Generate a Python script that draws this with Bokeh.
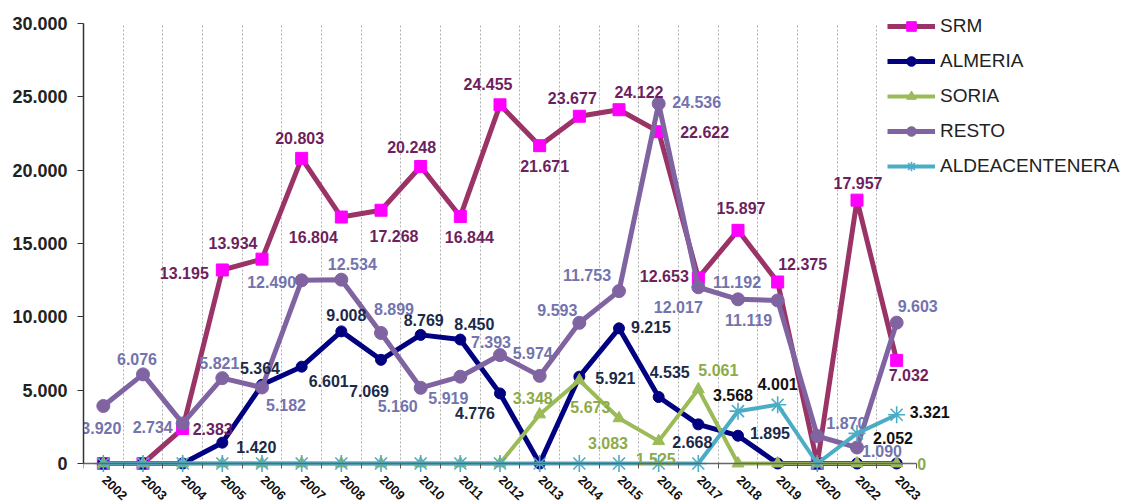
from bokeh.plotting import figure
from bokeh.models import FixedTicker, Legend, LegendItem, ColumnDataSource, Range1d, LabelSet
from bokeh.core.properties import value
from bokeh.embed import file_html
from bokeh.resources import INLINE

# ---------------- data ----------------
years = ["2002", "2003", "2004", "2005", "2006", "2007", "2008", "2009", "2010", "2011",
         "2012", "2013", "2014", "2015", "2016", "2017", "2018", "2019", "2020", "2022", "2023"]

srm = [0, 0, 2383, 13195, 13934, 20803, 16804, 17268, 20248, 16844,
       24455, 21671, 23677, 24122, 22622, 12653, 15897, 12375, 0, 17957, 7032]
almeria = [0, 0, 0, 1420, 5364, 6601, 9008, 7069, 8769, 8450,
           4776, 0, 5921, 9215, 4535, 2668, 1895, 0, 0, 0, 0]
soria = [0, 0, 0, 0, 0, 0, 0, 0, 0, 0,
         0, 3348, 5673, 3083, 1525, 5061, 0, 0, 0, 0, 0]
resto = [3920, 6076, 2734, 5821, 5182, 12490, 12534, 8899, 5160, 5919,
         7393, 5974, 9593, 11753, 24536, 12017, 11192, 11119, 1870, 1090, 9603]
aldea = [0, 0, 0, 0, 0, 0, 0, 0, 0, 0,
         0, 0, 0, 0, 0, 0, 3568, 4001, 0, 2052, 3321]

y_ticks = [0, 5000, 10000, 15000, 20000, 25000, 30000]
y_tick_labels = ["0", "5.000", "10.000", "15.000", "20.000", "25.000", "30.000"]

# ---------------- label placement (screen px offsets, +dy = down) ----------------
label_pos = {
    "SRM": {"2004": (30, 0), "2005": (-38, 3), "2006": (-29, -16), "2007": (-2, -20),
            "2008": (-28, 20), "2009": (13, 26), "2010": (-9, -20), "2011": (9, 21),
            "2012": (-12, -21), "2013": (5, 20), "2014": (-7, -18), "2015": (20, -18),
            "2016": (46, 0), "2017": (-34, -2), "2018": (3, -22), "2019": (25, -18),
            "2022": (1, -17), "2023": (12, 15)},
    "ALMERIA": {"2005": (34, 4), "2006": (-2, -17), "2007": (27, 14), "2008": (5, -16),
                "2009": (-12, 31), "2010": (3, -15), "2011": (14, -16), "2012": (-25, 20),
                "2014": (36, 1), "2015": (32, -1), "2016": (11, -25), "2017": (-6, 18),
                "2018": (32, -3)},
    "SORIA": {"2013": (-7, -16), "2014": (11, 27), "2015": (-11, 25), "2016": (-3, 18),
              "2017": (20, -19), "2023": (25, 0)},
    "RESTO": {"2002": (-2, 22), "2003": (-6, -15), "2004": (-30, 4), "2005": (-3, -15),
              "2006": (24, 18), "2007": (-30, 2), "2008": (11, -16), "2009": (13, -24),
              "2010": (-23, 18), "2011": (-12, 21), "2012": (-9, -13), "2013": (-7, -23),
              "2014": (-22, -13), "2015": (-32, -16), "2016": (38, -2), "2017": (-20, 20),
              "2018": (-1, -17), "2019": (-29, 20), "2020": (29, -13), "2022": (25, 3),
              "2023": (21, -17)},
    "ALDEACENTENERA": {"2018": (-5, -16), "2019": (0, -21), "2022": (36, 5), "2023": (33, -3)},
}

series = [
    # name, values, line color, marker, marker fill, marker size, line width, label color
    ("SRM", srm, "#9B3466", "square", "#FF00FF", 12, 5, "#6D1F5E"),
    ("ALMERIA", almeria, "#000080", "circle", "#000080", 11, 5, "#1B2A48"),
    ("SORIA", soria, "#9BBB59", "triangle", "#9BBB59", 12, 4, "#8CAB48"),
    ("RESTO", resto, "#8064A2", "circle", "#8064A2", 13, 5, "#7373AD"),
    ("ALDEACENTENERA", aldea, "#4BACC6", "asterisk", "#4BACC6", 17, 4, "#111111"),
]

FONT = "Liberation Sans"

# ---------------- layout (figure pixels) ----------------
W, H = 1123, 504
LEFT, BOTTOM = 83, 0
AX_LEFT, AX_RIGHT = 83, 916      # x of first / last category boundary
AX_TOP, AX_ZERO = 23, 463        # y of 30000 / 0
Y_MAX = 30000

frame_h = H - BOTTOM
y_per_px = Y_MAX / (AX_ZERO - AX_TOP)
y_start = -(frame_h - AX_ZERO) * y_per_px
y_end = Y_MAX + AX_TOP * y_per_px
n = len(years)
x_per_px = n / (AX_RIGHT - AX_LEFT)
x_start = -0.5
x_end = n - 0.5 + (W - AX_RIGHT) * x_per_px

x_idx = list(range(n))

p = figure(width=W, height=H, output_backend="svg", toolbar_location=None,
           x_range=Range1d(x_start, x_end), y_range=Range1d(y_start, y_end),
           min_border_left=LEFT, min_border_right=0, min_border_top=0,
           min_border_bottom=BOTTOM)
p.outline_line_color = None
p.background_fill_color = "white"

# x axis (line + boundary ticks at y=0; year labels drawn by a LabelSet below)
p.xaxis.fixed_location = 0
p.xaxis.bounds = (-0.5, n - 0.5)
p.xaxis.ticker = FixedTicker(ticks=x_idx, minor_ticks=[i - 0.5 for i in range(n + 1)])
p.xaxis.major_label_overrides = {i: "" for i in x_idx}
p.xaxis.major_label_text_font_size = "1px"
p.xaxis.major_label_standoff = 0
p.xaxis.major_tick_out = 0
p.xaxis.major_tick_in = 0
p.xaxis.minor_tick_out = 5
p.xaxis.minor_tick_in = 0
p.xaxis.minor_tick_line_color = "#555555"
p.xaxis.axis_line_color = "#666666"
p.xaxis.axis_line_width = 1.5

p.yaxis.bounds = (0, Y_MAX)
p.yaxis.ticker = FixedTicker(ticks=y_ticks)
p.yaxis.major_label_overrides = {t: l for t, l in zip(y_ticks, y_tick_labels)}
p.yaxis.major_tick_out = 6
p.yaxis.major_tick_in = 0
p.yaxis.minor_tick_out = 0
p.yaxis.minor_tick_in = 0
p.yaxis.axis_line_color = "#333333"
p.yaxis.axis_line_width = 1.5
p.yaxis.major_tick_line_color = "#333333"
p.yaxis.major_label_standoff = 10
p.yaxis.major_label_text_font = FONT
p.yaxis.major_label_text_font_style = "bold"
p.yaxis.major_label_text_font_size = "18px"
p.yaxis.major_label_text_color = "#222222"

# grid: vertical dotted lines at category boundaries
p.xgrid.ticker = FixedTicker(ticks=[i + 0.5 for i in range(n - 1)])
p.xgrid.grid_line_color = "#b0b0b0"
p.xgrid.grid_line_dash = "2 2"
p.xgrid.grid_line_width = 1
if "cross_bounds" in p.xgrid[0].properties():
    p.xgrid.cross_bounds = (0, Y_MAX)
p.ygrid.grid_line_color = None

legend_items = []
for name, vals, lc, mk, mf, ms, lw, tc in series:
    src = ColumnDataSource(dict(x=x_idx, y=vals))
    lr = p.line("x", "y", source=src, line_color=lc, line_width=lw)
    if mk == "asterisk":
        sr = p.scatter("x", "y", source=src, marker=mk, size=ms, line_color=mf, line_width=1.6)
    else:
        sr = p.scatter("x", "y", source=src, marker=mk, size=ms, fill_color=mf,
                       line_color=mf)
    legend_items.append(LegendItem(label=name, renderers=[lr, sr]))

# data labels
for name, vals, lc, mk, mf, ms, lw, tc in series:
    pos = label_pos[name]
    xs, ys, txt, dxs, dys = [], [], [], [], []
    for i, yr in enumerate(years):
        if yr in pos:
            xs.append(i)
            ys.append(vals[i])
            txt.append(f"{vals[i]:,}".replace(",", "."))
            dxs.append(pos[yr][0])
            dys.append(pos[yr][1])
    lsrc = ColumnDataSource(dict(x=xs, y=ys, t=txt, dx=dxs, dy=dys))
    p.text("x", "y", text="t", source=lsrc, x_offset="dx", y_offset="dy",
           text_align="center", text_baseline="middle", text_color=tc,
           text_font=value(FONT), text_font_style="bold", text_font_size="16px")

# category (year) labels under the axis, rotated
ysrc = ColumnDataSource(dict(x=x_idx, y=[0] * n, t=years))
year_labels = LabelSet(x="x", y="y", text="t", source=ysrc, angle=-0.76, angle_units="rad",
                       x_offset=4, y_offset=-11, text_align="left", text_baseline="top",
                       text_font=value(FONT), text_font_style="bold",
                       text_font_size="13px", text_color="#111111")
p.add_layout(year_labels)

legend = Legend(items=legend_items, location=(887 - LEFT, frame_h - 178))
legend.border_line_color = None
legend.background_fill_alpha = 0
legend.padding = 0
legend.margin = 0
legend.spacing = 11
legend.glyph_width = 48
legend.glyph_height = 24
legend.label_height = 24
legend.label_standoff = 5
legend.label_text_font = FONT
legend.label_text_font_size = "19px"
legend.label_text_color = "#222222"
p.add_layout(legend)

open("out.html", "w").write(file_html(p, INLINE))
